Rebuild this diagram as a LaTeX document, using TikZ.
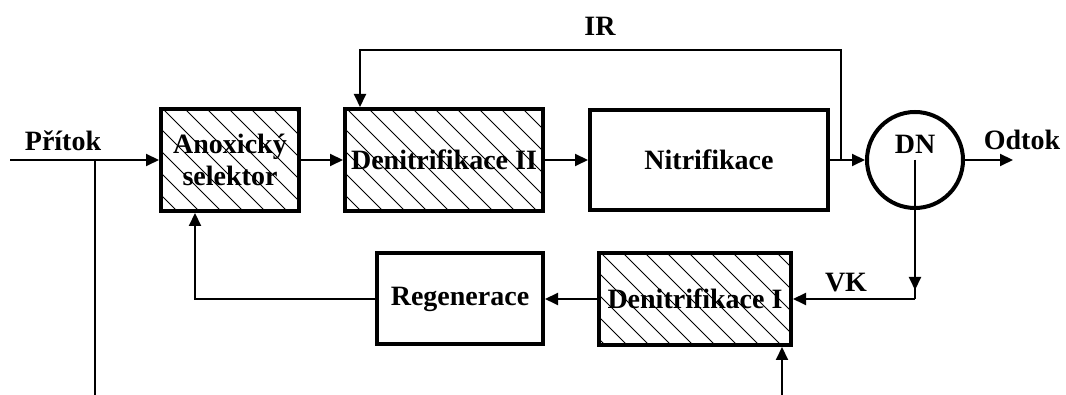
\documentclass[tikz,border=0pt]{standalone}
\usepackage{fontspec}
\setmainfont{Liberation Serif}
\usetikzlibrary{calc,positioning,arrows.meta}
\tikzset{
  wire/.style={line width=2pt},
  feed/.style={wire, -{Triangle[length=13pt,width=12pt]}},
  box/.style={draw, line width=4pt, fill=white, inner sep=0pt, align=center,
    font=\bfseries\fontsize{28}{32}\selectfont},
  hatched/.style={box, path picture={
      \foreach \d in {-130,-108,...,250}
        \draw[line width=0.9pt] ($(path picture bounding box.north west)+(\d,0)$) -- ++(140,-140);}},
  tank/.style={circle, draw, line width=4pt, minimum size=96pt, inner sep=0pt},
  lbl/.style={inner sep=0pt, font=\bfseries\fontsize{28}{32}\selectfont}
}
\begin{document}
\begin{tikzpicture}[x=1pt,y=1pt]
  \useasboundingbox (0,0) rectangle (1066,395);
  % main line
  \node[hatched, minimum width=138pt, minimum height=102pt] (sel) at (230,235) {Anoxický\\selektor};
  \node[hatched, minimum width=198pt, minimum height=102pt] (den2) at (444,235) {Denitrifikace II};
  \node[box, minimum width=238pt, minimum height=100pt] (nit) at (709,235) {Nitrifikace};
  \node[tank] (dn) at (915,235) {};
  \node[lbl] (dnl) at (915,251) {DN};
  % sludge line
  \node[hatched, minimum width=192pt, minimum height=92pt] (den1) at (695,96) {Denitrifikace I};
  \node[box, minimum width=166pt, minimum height=91pt] (reg) at (460,96) {Regenerace};

  \coordinate (src) at (10,235);
  \coordinate (split) at (95,235);
  \coordinate (bypass) at (95,0);
  \coordinate (out) at (1013,235);
  \coordinate (irs) at (841,235);
  \coordinate (ir) at (600,345);
  \coordinate (dose) at (782,0);
  \coordinate (vk) at (dn.center |- den1.east);

  \draw[feed] (src) -- (sel.west);
  \draw[wire] (split) -- (bypass);
  \draw[feed] (sel) -- (den2);
  \draw[feed] (den2) -- (nit);
  \draw[feed] (nit) -- (dn);
  \draw[feed] (dn) -- (out);
  \draw[feed] (irs) |- (ir) -| ($(den2.north)+(-84,0)$);
  \draw[wire] (dn.center) -- (vk);
  \draw[feed] (dn.center) -- ($(vk)+(0,9)$);
  \draw[feed] (vk) -- (den1.east);
  \draw[feed] (den1.west) -- (den1.west -| reg.east);
  \draw[feed] (reg.west) -| ($(sel.south)+(-35,0)$);
  \draw[feed] (dose) -- (dose |- den1.south);

  % labels
  \node[lbl, anchor=base] (pritok) at ($(src)+(53,9)$) {Přítok};
  \node[lbl, anchor=base] (odtok) at ($(out)+(9,10)$) {Odtok};
  \node[lbl, above=14pt of ir] (irl) {IR};
  \node[lbl, anchor=base] (vkl) at ($(vk)+(-69,7)$) {VK};
\end{tikzpicture}
\end{document}
